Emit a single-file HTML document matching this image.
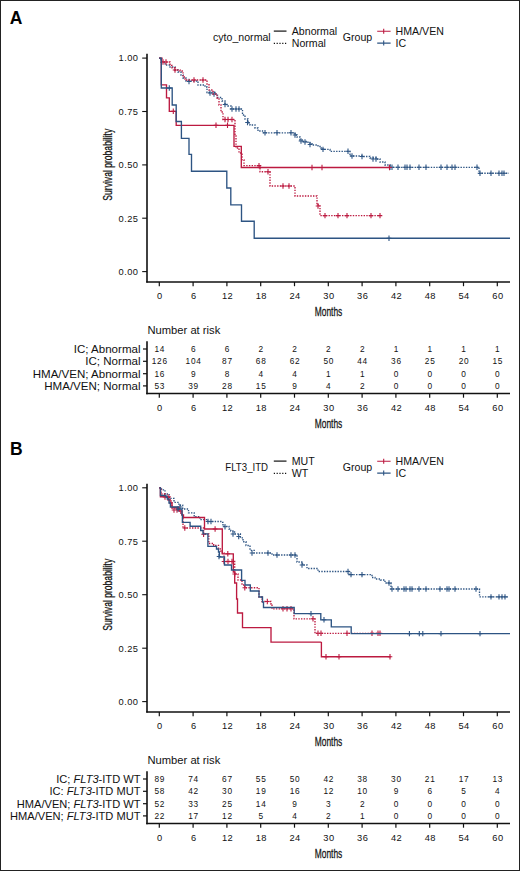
<!DOCTYPE html>
<html><head><meta charset="utf-8"><title>Survival curves</title>
<style>
html,body{margin:0;padding:0;background:#fff;}
body{width:520px;height:871px;overflow:hidden;}
svg{display:block;}
text{font-family:"Liberation Sans", sans-serif;fill:#111;}
.tk{font-size:9.3px;letter-spacing:0.4px;}
.rk{font-size:8.3px;letter-spacing:0.75px;}
.lg{font-size:10.6px;}
.rl{font-size:11.3px;}
.nr{font-size:11.2px;}
.pl{font-size:17.5px;font-weight:bold;fill:#000;}
.cond{font-size:12.3px;stroke:#111;stroke-width:0.25px;}
</style></head>
<body>
<svg width="520" height="871" viewBox="0 0 520 871">
<rect x="0.5" y="0.5" width="519" height="870" fill="#fff" stroke="#222" stroke-width="1"/>
<text x="9.8" y="24.3" class="pl">A</text>
<text x="10.1" y="454.6" class="pl">B</text>
<text x="213.0" y="40.7" class="lg">cyto_normal</text>
<path d="M273.8,31.1H286.5" stroke="#111" stroke-width="1.2"/>
<path d="M273.8,43.3H286.5" stroke="#111" stroke-width="1.2" stroke-dasharray="1.2 1.6"/>
<text x="291.8" y="34.8" class="lg">Abnormal</text>
<text x="291.8" y="46.6" class="lg">Normal</text>
<text x="342.8" y="40.7" class="lg">Group</text>
<path d="M377.2,31.2H390.6M383.7,28.7v5" stroke="#bc1a40" stroke-width="1.1"/>
<path d="M377.2,43.1H390.6M383.7,40.6v5" stroke="#2d5483" stroke-width="1.1"/>
<text x="395.6" y="34.8" class="lg">HMA/VEN</text>
<text x="395.6" y="46.6" class="lg">IC</text>
<text x="225.3" y="470.7" class="lg" textLength="42.8" lengthAdjust="spacingAndGlyphs">FLT3_ITD</text>
<path d="M273.8,461.1H286.5" stroke="#111" stroke-width="1.2"/>
<path d="M273.8,473.3H286.5" stroke="#111" stroke-width="1.2" stroke-dasharray="1.2 1.6"/>
<text x="291.8" y="464.8" class="lg">MUT</text>
<text x="291.8" y="476.6" class="lg">WT</text>
<text x="342.8" y="470.7" class="lg">Group</text>
<path d="M377.2,461.2H390.6M383.7,458.7v5" stroke="#bc1a40" stroke-width="1.1"/>
<path d="M377.2,473.1H390.6M383.7,470.6v5" stroke="#2d5483" stroke-width="1.1"/>
<text x="395.6" y="464.8" class="lg">HMA/VEN</text>
<text x="395.6" y="476.6" class="lg">IC</text>
<path d="M147,53.8V282.6" stroke="#111" stroke-width="1.6"/>
<path d="M146.2,282.0H510" stroke="#111" stroke-width="1.6"/>
<path d="M142.2,58.1H147" stroke="#111" stroke-width="1.1"/>
<text x="138.3" y="61.4" text-anchor="end" class="tk">1.00</text>
<path d="M142.2,111.5H147" stroke="#111" stroke-width="1.1"/>
<text x="138.3" y="114.8" text-anchor="end" class="tk">0.75</text>
<path d="M142.2,164.9H147" stroke="#111" stroke-width="1.1"/>
<text x="138.3" y="168.2" text-anchor="end" class="tk">0.50</text>
<path d="M142.2,218.2H147" stroke="#111" stroke-width="1.1"/>
<text x="138.3" y="221.5" text-anchor="end" class="tk">0.25</text>
<path d="M142.2,271.6H147" stroke="#111" stroke-width="1.1"/>
<text x="138.3" y="274.9" text-anchor="end" class="tk">0.00</text>
<path d="M159.3,282.0v4.2" stroke="#111" stroke-width="1.2"/>
<text x="159.9" y="299.4" text-anchor="middle" class="tk">0</text>
<path d="M193.1,282.0v4.2" stroke="#111" stroke-width="1.2"/>
<text x="193.7" y="299.4" text-anchor="middle" class="tk">6</text>
<path d="M226.9,282.0v4.2" stroke="#111" stroke-width="1.2"/>
<text x="227.5" y="299.4" text-anchor="middle" class="tk">12</text>
<path d="M260.7,282.0v4.2" stroke="#111" stroke-width="1.2"/>
<text x="261.3" y="299.4" text-anchor="middle" class="tk">18</text>
<path d="M294.5,282.0v4.2" stroke="#111" stroke-width="1.2"/>
<text x="295.1" y="299.4" text-anchor="middle" class="tk">24</text>
<path d="M328.3,282.0v4.2" stroke="#111" stroke-width="1.2"/>
<text x="328.9" y="299.4" text-anchor="middle" class="tk">30</text>
<path d="M362.1,282.0v4.2" stroke="#111" stroke-width="1.2"/>
<text x="362.7" y="299.4" text-anchor="middle" class="tk">36</text>
<path d="M395.9,282.0v4.2" stroke="#111" stroke-width="1.2"/>
<text x="396.5" y="299.4" text-anchor="middle" class="tk">42</text>
<path d="M429.7,282.0v4.2" stroke="#111" stroke-width="1.2"/>
<text x="430.3" y="299.4" text-anchor="middle" class="tk">48</text>
<path d="M463.5,282.0v4.2" stroke="#111" stroke-width="1.2"/>
<text x="464.1" y="299.4" text-anchor="middle" class="tk">54</text>
<path d="M497.3,282.0v4.2" stroke="#111" stroke-width="1.2"/>
<text x="497.9" y="299.4" text-anchor="middle" class="tk">60</text>
<text transform="translate(328.5,316.2) scale(0.685,1)" text-anchor="middle" class="cond">Months</text>
<text transform="translate(112,164.7) rotate(-90) scale(0.698,1)" text-anchor="middle" class="cond">Survival probability</text>
<path d="M147,483.8V712.6" stroke="#111" stroke-width="1.6"/>
<path d="M146.2,712.0H510" stroke="#111" stroke-width="1.6"/>
<path d="M142.2,487.8H147" stroke="#111" stroke-width="1.1"/>
<text x="138.3" y="491.1" text-anchor="end" class="tk">1.00</text>
<path d="M142.2,541.2H147" stroke="#111" stroke-width="1.1"/>
<text x="138.3" y="544.5" text-anchor="end" class="tk">0.75</text>
<path d="M142.2,594.7H147" stroke="#111" stroke-width="1.1"/>
<text x="138.3" y="598.0" text-anchor="end" class="tk">0.50</text>
<path d="M142.2,648.2H147" stroke="#111" stroke-width="1.1"/>
<text x="138.3" y="651.5" text-anchor="end" class="tk">0.25</text>
<path d="M142.2,701.6H147" stroke="#111" stroke-width="1.1"/>
<text x="138.3" y="704.9" text-anchor="end" class="tk">0.00</text>
<path d="M159.3,712.0v4.2" stroke="#111" stroke-width="1.2"/>
<text x="159.9" y="729.4" text-anchor="middle" class="tk">0</text>
<path d="M193.1,712.0v4.2" stroke="#111" stroke-width="1.2"/>
<text x="193.7" y="729.4" text-anchor="middle" class="tk">6</text>
<path d="M226.9,712.0v4.2" stroke="#111" stroke-width="1.2"/>
<text x="227.5" y="729.4" text-anchor="middle" class="tk">12</text>
<path d="M260.7,712.0v4.2" stroke="#111" stroke-width="1.2"/>
<text x="261.3" y="729.4" text-anchor="middle" class="tk">18</text>
<path d="M294.5,712.0v4.2" stroke="#111" stroke-width="1.2"/>
<text x="295.1" y="729.4" text-anchor="middle" class="tk">24</text>
<path d="M328.3,712.0v4.2" stroke="#111" stroke-width="1.2"/>
<text x="328.9" y="729.4" text-anchor="middle" class="tk">30</text>
<path d="M362.1,712.0v4.2" stroke="#111" stroke-width="1.2"/>
<text x="362.7" y="729.4" text-anchor="middle" class="tk">36</text>
<path d="M395.9,712.0v4.2" stroke="#111" stroke-width="1.2"/>
<text x="396.5" y="729.4" text-anchor="middle" class="tk">42</text>
<path d="M429.7,712.0v4.2" stroke="#111" stroke-width="1.2"/>
<text x="430.3" y="729.4" text-anchor="middle" class="tk">48</text>
<path d="M463.5,712.0v4.2" stroke="#111" stroke-width="1.2"/>
<text x="464.1" y="729.4" text-anchor="middle" class="tk">54</text>
<path d="M497.3,712.0v4.2" stroke="#111" stroke-width="1.2"/>
<text x="497.9" y="729.4" text-anchor="middle" class="tk">60</text>
<text transform="translate(328.5,746.2) scale(0.685,1)" text-anchor="middle" class="cond">Months</text>
<text transform="translate(112,594.7) rotate(-90) scale(0.698,1)" text-anchor="middle" class="cond">Survival probability</text>
<text x="147.5" y="334.0" class="nr">Number at risk</text>
<path d="M147,341.2V394.2" stroke="#111" stroke-width="1.6"/>
<path d="M146.2,393.5H510" stroke="#111" stroke-width="1.6"/>
<path d="M143,349.0H147" stroke="#111" stroke-width="1.2"/>
<text x="140.5" y="352.8" text-anchor="end" class="rl" style="font-size:11.55px">IC; Abnormal</text>
<text x="159.8" y="351.9" text-anchor="middle" class="rk">14</text>
<text x="193.6" y="351.9" text-anchor="middle" class="rk">6</text>
<text x="227.4" y="351.9" text-anchor="middle" class="rk">6</text>
<text x="261.2" y="351.9" text-anchor="middle" class="rk">2</text>
<text x="295.0" y="351.9" text-anchor="middle" class="rk">2</text>
<text x="328.8" y="351.9" text-anchor="middle" class="rk">2</text>
<text x="362.6" y="351.9" text-anchor="middle" class="rk">2</text>
<text x="396.4" y="351.9" text-anchor="middle" class="rk">1</text>
<text x="430.2" y="351.9" text-anchor="middle" class="rk">1</text>
<text x="464.0" y="351.9" text-anchor="middle" class="rk">1</text>
<text x="497.8" y="351.9" text-anchor="middle" class="rk">1</text>
<path d="M143,361.3H147" stroke="#111" stroke-width="1.2"/>
<text x="140.5" y="365.1" text-anchor="end" class="rl" style="font-size:11.55px">IC; Normal</text>
<text x="159.8" y="364.2" text-anchor="middle" class="rk">126</text>
<text x="193.6" y="364.2" text-anchor="middle" class="rk">104</text>
<text x="227.4" y="364.2" text-anchor="middle" class="rk">87</text>
<text x="261.2" y="364.2" text-anchor="middle" class="rk">68</text>
<text x="295.0" y="364.2" text-anchor="middle" class="rk">62</text>
<text x="328.8" y="364.2" text-anchor="middle" class="rk">50</text>
<text x="362.6" y="364.2" text-anchor="middle" class="rk">44</text>
<text x="396.4" y="364.2" text-anchor="middle" class="rk">36</text>
<text x="430.2" y="364.2" text-anchor="middle" class="rk">25</text>
<text x="464.0" y="364.2" text-anchor="middle" class="rk">20</text>
<text x="497.8" y="364.2" text-anchor="middle" class="rk">15</text>
<path d="M143,373.7H147" stroke="#111" stroke-width="1.2"/>
<text x="140.5" y="377.5" text-anchor="end" class="rl" style="font-size:11.55px">HMA/VEN; Abnormal</text>
<text x="159.8" y="376.6" text-anchor="middle" class="rk">16</text>
<text x="193.6" y="376.6" text-anchor="middle" class="rk">9</text>
<text x="227.4" y="376.6" text-anchor="middle" class="rk">8</text>
<text x="261.2" y="376.6" text-anchor="middle" class="rk">4</text>
<text x="295.0" y="376.6" text-anchor="middle" class="rk">4</text>
<text x="328.8" y="376.6" text-anchor="middle" class="rk">1</text>
<text x="362.6" y="376.6" text-anchor="middle" class="rk">1</text>
<text x="396.4" y="376.6" text-anchor="middle" class="rk">0</text>
<text x="430.2" y="376.6" text-anchor="middle" class="rk">0</text>
<text x="464.0" y="376.6" text-anchor="middle" class="rk">0</text>
<text x="497.8" y="376.6" text-anchor="middle" class="rk">0</text>
<path d="M143,385.9H147" stroke="#111" stroke-width="1.2"/>
<text x="140.5" y="389.7" text-anchor="end" class="rl" style="font-size:11.55px">HMA/VEN; Normal</text>
<text x="159.8" y="388.8" text-anchor="middle" class="rk">53</text>
<text x="193.6" y="388.8" text-anchor="middle" class="rk">39</text>
<text x="227.4" y="388.8" text-anchor="middle" class="rk">28</text>
<text x="261.2" y="388.8" text-anchor="middle" class="rk">15</text>
<text x="295.0" y="388.8" text-anchor="middle" class="rk">9</text>
<text x="328.8" y="388.8" text-anchor="middle" class="rk">4</text>
<text x="362.6" y="388.8" text-anchor="middle" class="rk">2</text>
<text x="396.4" y="388.8" text-anchor="middle" class="rk">0</text>
<text x="430.2" y="388.8" text-anchor="middle" class="rk">0</text>
<text x="464.0" y="388.8" text-anchor="middle" class="rk">0</text>
<text x="497.8" y="388.8" text-anchor="middle" class="rk">0</text>
<path d="M159.3,393.5v4.2" stroke="#111" stroke-width="1.2"/>
<text x="159.9" y="410.8" text-anchor="middle" class="tk">0</text>
<path d="M193.1,393.5v4.2" stroke="#111" stroke-width="1.2"/>
<text x="193.7" y="410.8" text-anchor="middle" class="tk">6</text>
<path d="M226.9,393.5v4.2" stroke="#111" stroke-width="1.2"/>
<text x="227.5" y="410.8" text-anchor="middle" class="tk">12</text>
<path d="M260.7,393.5v4.2" stroke="#111" stroke-width="1.2"/>
<text x="261.3" y="410.8" text-anchor="middle" class="tk">18</text>
<path d="M294.5,393.5v4.2" stroke="#111" stroke-width="1.2"/>
<text x="295.1" y="410.8" text-anchor="middle" class="tk">24</text>
<path d="M328.3,393.5v4.2" stroke="#111" stroke-width="1.2"/>
<text x="328.9" y="410.8" text-anchor="middle" class="tk">30</text>
<path d="M362.1,393.5v4.2" stroke="#111" stroke-width="1.2"/>
<text x="362.7" y="410.8" text-anchor="middle" class="tk">36</text>
<path d="M395.9,393.5v4.2" stroke="#111" stroke-width="1.2"/>
<text x="396.5" y="410.8" text-anchor="middle" class="tk">42</text>
<path d="M429.7,393.5v4.2" stroke="#111" stroke-width="1.2"/>
<text x="430.3" y="410.8" text-anchor="middle" class="tk">48</text>
<path d="M463.5,393.5v4.2" stroke="#111" stroke-width="1.2"/>
<text x="464.1" y="410.8" text-anchor="middle" class="tk">54</text>
<path d="M497.3,393.5v4.2" stroke="#111" stroke-width="1.2"/>
<text x="497.9" y="410.8" text-anchor="middle" class="tk">60</text>
<text transform="translate(328.5,427.6) scale(0.685,1)" text-anchor="middle" class="cond">Months</text>
<text x="147.5" y="764.0" class="nr">Number at risk</text>
<path d="M147,771.2V824.2" stroke="#111" stroke-width="1.6"/>
<path d="M146.2,823.5H510" stroke="#111" stroke-width="1.6"/>
<path d="M143,779.0H147" stroke="#111" stroke-width="1.2"/>
<text x="140.5" y="782.8" text-anchor="end" class="rl" style="font-size:11.10px">IC; <tspan font-style="italic">FLT3</tspan>-ITD WT</text>
<text x="159.8" y="781.9" text-anchor="middle" class="rk">89</text>
<text x="193.6" y="781.9" text-anchor="middle" class="rk">74</text>
<text x="227.4" y="781.9" text-anchor="middle" class="rk">67</text>
<text x="261.2" y="781.9" text-anchor="middle" class="rk">55</text>
<text x="295.0" y="781.9" text-anchor="middle" class="rk">50</text>
<text x="328.8" y="781.9" text-anchor="middle" class="rk">42</text>
<text x="362.6" y="781.9" text-anchor="middle" class="rk">38</text>
<text x="396.4" y="781.9" text-anchor="middle" class="rk">30</text>
<text x="430.2" y="781.9" text-anchor="middle" class="rk">21</text>
<text x="464.0" y="781.9" text-anchor="middle" class="rk">17</text>
<text x="497.8" y="781.9" text-anchor="middle" class="rk">13</text>
<path d="M143,791.3H147" stroke="#111" stroke-width="1.2"/>
<text x="140.5" y="795.1" text-anchor="end" class="rl" style="font-size:11.10px">IC: <tspan font-style="italic">FLT3</tspan>-ITD MUT</text>
<text x="159.8" y="794.2" text-anchor="middle" class="rk">58</text>
<text x="193.6" y="794.2" text-anchor="middle" class="rk">42</text>
<text x="227.4" y="794.2" text-anchor="middle" class="rk">30</text>
<text x="261.2" y="794.2" text-anchor="middle" class="rk">19</text>
<text x="295.0" y="794.2" text-anchor="middle" class="rk">16</text>
<text x="328.8" y="794.2" text-anchor="middle" class="rk">12</text>
<text x="362.6" y="794.2" text-anchor="middle" class="rk">10</text>
<text x="396.4" y="794.2" text-anchor="middle" class="rk">9</text>
<text x="430.2" y="794.2" text-anchor="middle" class="rk">6</text>
<text x="464.0" y="794.2" text-anchor="middle" class="rk">5</text>
<text x="497.8" y="794.2" text-anchor="middle" class="rk">4</text>
<path d="M143,803.7H147" stroke="#111" stroke-width="1.2"/>
<text x="140.5" y="807.5" text-anchor="end" class="rl" style="font-size:11.10px">HMA/VEN; <tspan font-style="italic">FLT3</tspan>-ITD WT</text>
<text x="159.8" y="806.6" text-anchor="middle" class="rk">52</text>
<text x="193.6" y="806.6" text-anchor="middle" class="rk">33</text>
<text x="227.4" y="806.6" text-anchor="middle" class="rk">25</text>
<text x="261.2" y="806.6" text-anchor="middle" class="rk">14</text>
<text x="295.0" y="806.6" text-anchor="middle" class="rk">9</text>
<text x="328.8" y="806.6" text-anchor="middle" class="rk">3</text>
<text x="362.6" y="806.6" text-anchor="middle" class="rk">2</text>
<text x="396.4" y="806.6" text-anchor="middle" class="rk">0</text>
<text x="430.2" y="806.6" text-anchor="middle" class="rk">0</text>
<text x="464.0" y="806.6" text-anchor="middle" class="rk">0</text>
<text x="497.8" y="806.6" text-anchor="middle" class="rk">0</text>
<path d="M143,815.9H147" stroke="#111" stroke-width="1.2"/>
<text x="140.5" y="819.7" text-anchor="end" class="rl" style="font-size:11.10px">HMA/VEN; <tspan font-style="italic">FLT3</tspan>-ITD MUT</text>
<text x="159.8" y="818.8" text-anchor="middle" class="rk">22</text>
<text x="193.6" y="818.8" text-anchor="middle" class="rk">17</text>
<text x="227.4" y="818.8" text-anchor="middle" class="rk">12</text>
<text x="261.2" y="818.8" text-anchor="middle" class="rk">5</text>
<text x="295.0" y="818.8" text-anchor="middle" class="rk">4</text>
<text x="328.8" y="818.8" text-anchor="middle" class="rk">2</text>
<text x="362.6" y="818.8" text-anchor="middle" class="rk">1</text>
<text x="396.4" y="818.8" text-anchor="middle" class="rk">0</text>
<text x="430.2" y="818.8" text-anchor="middle" class="rk">0</text>
<text x="464.0" y="818.8" text-anchor="middle" class="rk">0</text>
<text x="497.8" y="818.8" text-anchor="middle" class="rk">0</text>
<path d="M159.3,823.5v4.2" stroke="#111" stroke-width="1.2"/>
<text x="159.9" y="840.8" text-anchor="middle" class="tk">0</text>
<path d="M193.1,823.5v4.2" stroke="#111" stroke-width="1.2"/>
<text x="193.7" y="840.8" text-anchor="middle" class="tk">6</text>
<path d="M226.9,823.5v4.2" stroke="#111" stroke-width="1.2"/>
<text x="227.5" y="840.8" text-anchor="middle" class="tk">12</text>
<path d="M260.7,823.5v4.2" stroke="#111" stroke-width="1.2"/>
<text x="261.3" y="840.8" text-anchor="middle" class="tk">18</text>
<path d="M294.5,823.5v4.2" stroke="#111" stroke-width="1.2"/>
<text x="295.1" y="840.8" text-anchor="middle" class="tk">24</text>
<path d="M328.3,823.5v4.2" stroke="#111" stroke-width="1.2"/>
<text x="328.9" y="840.8" text-anchor="middle" class="tk">30</text>
<path d="M362.1,823.5v4.2" stroke="#111" stroke-width="1.2"/>
<text x="362.7" y="840.8" text-anchor="middle" class="tk">36</text>
<path d="M395.9,823.5v4.2" stroke="#111" stroke-width="1.2"/>
<text x="396.5" y="840.8" text-anchor="middle" class="tk">42</text>
<path d="M429.7,823.5v4.2" stroke="#111" stroke-width="1.2"/>
<text x="430.3" y="840.8" text-anchor="middle" class="tk">48</text>
<path d="M463.5,823.5v4.2" stroke="#111" stroke-width="1.2"/>
<text x="464.1" y="840.8" text-anchor="middle" class="tk">54</text>
<path d="M497.3,823.5v4.2" stroke="#111" stroke-width="1.2"/>
<text x="497.9" y="840.8" text-anchor="middle" class="tk">60</text>
<text transform="translate(328.5,857.6) scale(0.685,1)" text-anchor="middle" class="cond">Months</text>
<path d="M159.2,58.2H161.0V62.0H165.0V65.0H170.0V67.0H175.0V70.0H178.0V72.0H181.0V75.0H183.0V78.0H186.0V81.0H195.0H198.0V85.0H205.0V87.0H207.0V92.5H215.0V94.0H217.5V97.5H222.0V101.0H225.0V104.5H228.0V106.0H231.0V109.0H240.0H242.5V115.0H245.0V119.0H248.0V123.0H250.0V125.0H255.0V128.0H258.0V131.0H262.5V132.8H293.0H295.0V135.0H297.0V137.0H300.0V140.0H303.0V141.5H308.0V143.0H312.0V145.0H318.0V146.5H321.0V148.0H323.0V149.4H330.0V151.3H348.5H350.0V156.0H362.0V156.5H370.0V158.0H376.0V159.0H380.0V162.0H385.0V165.0H390.0V167.3H478.2H479.0V173.2H509.0" stroke="#2d5483" stroke-width="1.35" fill="none" stroke-dasharray="1.4 1.3"/><path d="M189.0,78.8v5.4M186.7,81.5h4.6M210.0,90.3v5.4M207.7,93.0h4.6M214.0,91.3v5.4M211.7,94.0h4.6M225.0,101.8v5.4M222.7,104.5h4.6M232.0,106.3v5.4M229.7,109.0h4.6M236.0,106.3v5.4M233.7,109.0h4.6M239.0,106.3v5.4M236.7,109.0h4.6M247.5,119.8v5.4M245.2,122.5h4.6M265.0,130.1v5.4M262.7,132.8h4.6M277.0,130.1v5.4M274.7,132.8h4.6M291.0,130.1v5.4M288.7,132.8h4.6M295.0,132.3v5.4M292.7,135.0h4.6M301.0,138.3v5.4M298.7,141.0h4.6M305.0,139.3v5.4M302.7,142.0h4.6M310.0,141.8v5.4M307.7,144.5h4.6M323.0,146.7v5.4M320.7,149.4h4.6M348.0,148.6v5.4M345.7,151.3h4.6M352.0,153.3v5.4M349.7,156.0h4.6M362.0,153.8v5.4M359.7,156.5h4.6M373.0,156.3v5.4M370.7,159.0h4.6M376.0,156.3v5.4M373.7,159.0h4.6M390.0,164.6v5.4M387.7,167.3h4.6M392.0,164.6v5.4M389.7,167.3h4.6M398.0,164.6v5.4M395.7,167.3h4.6M405.0,164.6v5.4M402.7,167.3h4.6M407.0,164.6v5.4M404.7,167.3h4.6M410.0,164.6v5.4M407.7,167.3h4.6M419.0,164.6v5.4M416.7,167.3h4.6M426.0,164.6v5.4M423.7,167.3h4.6M441.0,164.6v5.4M438.7,167.3h4.6M447.0,164.6v5.4M444.7,167.3h4.6M452.0,164.6v5.4M449.7,167.3h4.6M455.0,164.6v5.4M452.7,167.3h4.6M477.0,164.6v5.4M474.7,167.3h4.6M480.0,170.5v5.4M477.7,173.2h4.6M491.0,170.5v5.4M488.7,173.2h4.6M499.0,170.5v5.4M496.7,173.2h4.6M502.0,170.5v5.4M499.7,173.2h4.6M504.0,170.5v5.4M501.7,173.2h4.6" stroke="#2d5483" stroke-width="1.1" fill="none"/>
<path d="M159.2,58.2H162.0V62.0H168.0H170.0V65.5H172.0V67.8H175.0V70.0H180.0V71.0H183.0V77.0H185.0V80.0H205.0H207.0V84.0H209.0V90.0H213.0V94.0H217.0V98.0H219.0V105.0H221.0V112.0H223.0V119.5H234.0H235.0V136.0H236.0V148.0H239.0V153.0H242.0V160.0H244.0V165.6H259.0H260.0V171.7H269.6H270.0V186.0H294.2H295.0V196.0H314.8H317.0V205.0H320.0V215.6H380.0" stroke="#bc1a40" stroke-width="1.35" fill="none" stroke-dasharray="1.4 1.3"/><path d="M163.0,59.3v5.4M160.7,62.0h4.6M166.0,59.3v5.4M163.7,62.0h4.6M175.0,67.3v5.4M172.7,70.0h4.6M194.0,77.3v5.4M191.7,80.0h4.6M203.0,77.3v5.4M200.7,80.0h4.6M225.0,116.8v5.4M222.7,119.5h4.6M228.0,116.8v5.4M225.7,119.5h4.6M232.0,116.8v5.4M229.7,119.5h4.6M259.0,162.9v5.4M256.7,165.6h4.6M268.0,169.0v5.4M265.7,171.7h4.6M283.0,183.3v5.4M280.7,186.0h4.6M289.0,183.3v5.4M286.7,186.0h4.6M318.0,203.3v5.4M315.7,206.0h4.6M325.0,212.9v5.4M322.7,215.6h4.6M338.0,212.9v5.4M335.7,215.6h4.6M347.0,212.9v5.4M344.7,215.6h4.6M371.0,212.9v5.4M368.7,215.6h4.6M380.0,212.9v5.4M377.7,215.6h4.6" stroke="#bc1a40" stroke-width="1.1" fill="none"/>
<path d="M159.2,58.2H161.3V84.8H166.5V97.8H169.3V111.3H176.2V125.3H234.0V146.3H241.3V167.5H389.5" stroke="#bc1a40" stroke-width="1.35" fill="none"/><path d="M173.3,108.6v5.4M171.0,111.3h4.6M216.0,122.6v5.4M213.7,125.3h4.6M227.5,122.6v5.4M225.2,125.3h4.6M312.0,164.8v5.4M309.7,167.5h4.6M322.0,164.8v5.4M319.7,167.5h4.6M389.5,164.8v5.4M387.2,167.5h4.6" stroke="#bc1a40" stroke-width="1.1" fill="none"/>
<path d="M159.2,58.2H161.3V88.0H172.2V105.0H176.2V121.5H181.4V138.3H189.0V154.3H191.5V171.2H226.8V188.0H230.8V204.8H241.5V221.2H254.2V238.2H510.0" stroke="#2d5483" stroke-width="1.35" fill="none"/><path d="M169.3,85.3v5.4M167.0,88.0h4.6M389.0,235.5v5.4M386.7,238.2h4.6" stroke="#2d5483" stroke-width="1.1" fill="none"/>
<path d="M159.3,487.8H161.5V489.8H165.0V494.0H169.2V498.4H174.0V502.3H178.8V505.2H182.7V509.0H188.5V512.8H194.2V516.7H200.0V519.6H207.7V521.5H221.5V522.3H223.0V526.3H229.0V529.0H230.8V531.0H234.6V534.0H240.4V537.8H243.0V541.7H246.0V545.5H250.0V550.3H254.2V553.0H268.0H272.0V555.0H296.0H297.0V562.0H302.5V565.0H307.0V568.5H318.0V571.5H348.7H349.0V574.6H372.0V577.5H375.0V579.0H380.4V580.0H385.0V583.0H390.0H391.0V589.0H479.0H479.5V596.9H509.0" stroke="#2d5483" stroke-width="1.35" fill="none" stroke-dasharray="1.4 1.3"/><path d="M180.0,504.3v5.4M177.7,507.0h4.6M208.0,518.8v5.4M205.7,521.5h4.6M211.0,518.8v5.4M208.7,521.5h4.6M225.0,524.0v5.4M222.7,526.7h4.6M233.0,531.3v5.4M230.7,534.0h4.6M238.7,533.8v5.4M236.4,536.5h4.6M252.0,550.3v5.4M249.7,553.0h4.6M268.0,550.3v5.4M265.7,553.0h4.6M277.0,552.3v5.4M274.7,555.0h4.6M291.0,552.3v5.4M288.7,555.0h4.6M295.0,552.3v5.4M292.7,555.0h4.6M302.0,562.3v5.4M299.7,565.0h4.6M348.0,568.8v5.4M345.7,571.5h4.6M351.0,571.9v5.4M348.7,574.6h4.6M362.0,571.9v5.4M359.7,574.6h4.6M389.0,580.3v5.4M386.7,583.0h4.6M392.0,586.3v5.4M389.7,589.0h4.6M398.0,586.3v5.4M395.7,589.0h4.6M404.0,586.3v5.4M401.7,589.0h4.6M406.0,586.3v5.4M403.7,589.0h4.6M410.0,586.3v5.4M407.7,589.0h4.6M412.0,586.3v5.4M409.7,589.0h4.6M419.0,586.3v5.4M416.7,589.0h4.6M426.0,586.3v5.4M423.7,589.0h4.6M440.0,586.3v5.4M437.7,589.0h4.6M447.0,586.3v5.4M444.7,589.0h4.6M449.0,586.3v5.4M446.7,589.0h4.6M455.0,586.3v5.4M452.7,589.0h4.6M476.0,586.3v5.4M473.7,589.0h4.6M491.0,594.2v5.4M488.7,596.9h4.6M499.0,594.2v5.4M496.7,596.9h4.6M502.0,594.2v5.4M499.7,596.9h4.6M505.0,594.2v5.4M502.7,596.9h4.6" stroke="#2d5483" stroke-width="1.1" fill="none"/>
<path d="M159.3,487.8H161.0V494.0H165.0V497.0H170.0V501.0H172.0V508.0H176.5V510.0H180.0V513.0H182.0V514.8H183.0V528.0H200.7H203.6V534.0H208.8V543.5H213.7V545.4H218.5V549.0H220.4V551.0H222.3V553.0H224.0V561.5H234.0H234.7V574.0H238.0V580.0H242.0V585.0H244.8V587.7H259.0V597.0H262.0V601.5H271.0V604.0H272.0V608.8H294.0V618.8H315.0V633.3H381.0" stroke="#bc1a40" stroke-width="1.35" fill="none" stroke-dasharray="1.4 1.3"/><path d="M165.0,494.3v5.4M162.7,497.0h4.6M168.0,494.3v5.4M165.7,497.0h4.6M174.0,507.3v5.4M171.7,510.0h4.6M177.0,507.3v5.4M174.7,510.0h4.6M184.8,525.3v5.4M182.5,528.0h4.6M203.6,531.6v5.4M201.3,534.3h4.6M224.0,558.8v5.4M221.7,561.5h4.6M228.0,558.8v5.4M225.7,561.5h4.6M232.0,558.8v5.4M229.7,561.5h4.6M234.7,571.3v5.4M232.4,574.0h4.6M244.8,585.0v5.4M242.5,587.7h4.6M267.3,598.8v5.4M265.0,601.5h4.6M283.0,606.1v5.4M280.7,608.8h4.6M287.0,606.1v5.4M284.7,608.8h4.6M291.0,606.1v5.4M288.7,608.8h4.6M313.0,616.1v5.4M310.7,618.8h4.6M318.0,630.6v5.4M315.7,633.3h4.6M321.0,630.6v5.4M318.7,633.3h4.6M347.0,630.6v5.4M344.7,633.3h4.6M372.0,630.6v5.4M369.7,633.3h4.6M378.0,630.6v5.4M375.7,633.3h4.6M380.0,630.6v5.4M377.7,633.3h4.6" stroke="#bc1a40" stroke-width="1.1" fill="none"/>
<path d="M159.3,487.8H160.4V496.7H167.0H168.0V500.0H170.0V503.0H172.0V507.5H177.3H179.0V511.0H182.0V514.8H183.5V517.5H204.5V529.0H222.3V553.8H233.3V572.0H234.7V583.0H236.6V599.0H237.5V613.0H242.5V627.6H271.0V642.1H321.4V642.0V656.7H390.6" stroke="#bc1a40" stroke-width="1.35" fill="none"/><path d="M215.1,526.3v5.4M212.8,529.0h4.6M227.8,551.1v5.4M225.5,553.8h4.6M326.0,654.0v5.4M323.7,656.7h4.6M339.0,654.0v5.4M336.7,656.7h4.6M390.0,654.0v5.4M387.7,656.7h4.6" stroke="#bc1a40" stroke-width="1.1" fill="none"/>
<path d="M159.3,487.8H160.4V495.5H166.0V497.0H167.3V499.0H169.0V503.0H170.4V507.0H178.0V509.0H182.0V514.8H182.4V516.5V522.3H190.1V526.2H200.7V530.5H203.0V533.8H207.9V546.3H214.6H216.5V549.0H218.5V552.0H219.4V557.0H224.5V565.0H231.5V570.0H241.6V580.4H244.4H245.0V585.0H250.3V591.0H257.7H259.0V597.0H262.5V602.0H263.5V607.5H294.2V613.6H320.8V619.8H331.3V626.9H351.2V633.6H510.0" stroke="#2d5483" stroke-width="1.35" fill="none"/><path d="M178.0,506.3v5.4M175.7,509.0h4.6M219.0,553.8v5.4M216.7,556.5h4.6M311.0,610.9v5.4M308.7,613.6h4.6M324.0,617.1v5.4M321.7,619.8h4.6M409.4,630.9v5.4M407.1,633.6h4.6M419.3,630.9v5.4M417.0,633.6h4.6M422.8,630.9v5.4M420.5,633.6h4.6M441.0,630.9v5.4M438.7,633.6h4.6M480.0,630.9v5.4M477.7,633.6h4.6" stroke="#2d5483" stroke-width="1.1" fill="none"/>
</svg>
</body></html>
